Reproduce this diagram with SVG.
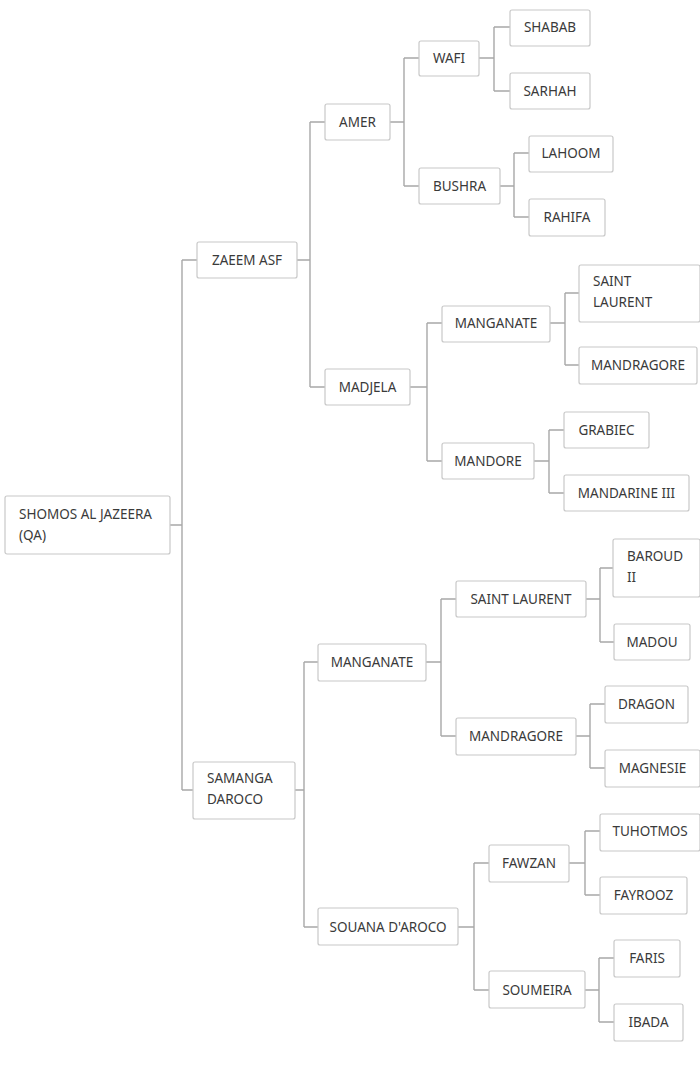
<svg xmlns="http://www.w3.org/2000/svg" width="700" height="1083" viewBox="0 0 700 1083">
<style>
.n rect{fill:#fff;stroke:#c8c8c8;stroke-width:1.2}
.n text{font-family:"Noto Sans","Liberation Sans",sans-serif;font-size:13.5px;fill:#3a3a3a}
.c path{fill:none;stroke:#a8a8a8;stroke-width:1.4}
</style>
<rect width="700" height="1083" fill="#fff"/>
<g class="c">
<path d="M170,525H182M182,260V790M182,260H197M182,790H193"/>
<path d="M297,260H310M310,122V387M310,122H325M310,387H325"/>
<path d="M390,122H404M404,58V186M404,58H419M404,186H419"/>
<path d="M479,58H494M494,27V91M494,27H510M494,91H510"/>
<path d="M500,186H514M514,153V217M514,153H529M514,217H529"/>
<path d="M410,387H427M427,323V461M427,323H442M427,461H442"/>
<path d="M550,323H565M565,293V365M565,293H579M565,365H579"/>
<path d="M534,461H549M549,430V493M549,430H564M549,493H564"/>
<path d="M295,790H304M304,662V927M304,662H318M304,927H318"/>
<path d="M426,662H441M441,599V736M441,599H456M441,736H456"/>
<path d="M586,599H600M600,568V642M600,568H613M600,642H614"/>
<path d="M576,736H590M590,704V768M590,704H605M590,768H605"/>
<path d="M458,927H474M474,863V990M474,863H489M474,990H489"/>
<path d="M569,863H585M585,831V895M585,831H600M585,895H600"/>
<path d="M585,990H599M599,958V1022M599,958H614M599,1022H614"/>
</g>
<g id="root" class="n"><rect x="5" y="496" width="165" height="58" rx="2"/><text x="19" y="519">SHOMOS AL JAZEERA</text><text x="19" y="540">(QA)</text></g>
<g id="zaeem" class="n"><rect x="197" y="242" width="100" height="36" rx="2"/><text x="247" y="265" text-anchor="middle">ZAEEM ASF</text></g>
<g id="samanga" class="n"><rect x="193" y="762" width="102" height="57" rx="2"/><text x="207" y="783">SAMANGA</text><text x="207" y="804">DAROCO</text></g>
<g id="amer" class="n"><rect x="325" y="104" width="65" height="36" rx="2"/><text x="357.5" y="127" text-anchor="middle">AMER</text></g>
<g id="madjela" class="n"><rect x="325" y="369" width="85" height="36" rx="2"/><text x="367.5" y="392" text-anchor="middle">MADJELA</text></g>
<g id="wafi" class="n"><rect x="419" y="41" width="60" height="35" rx="2"/><text x="449" y="63" text-anchor="middle">WAFI</text></g>
<g id="bushra" class="n"><rect x="419" y="168" width="81" height="36" rx="2"/><text x="459.5" y="191" text-anchor="middle">BUSHRA</text></g>
<g id="shabab" class="n"><rect x="510" y="10" width="80" height="36" rx="2"/><text x="550" y="32" text-anchor="middle">SHABAB</text></g>
<g id="sarhah" class="n"><rect x="510" y="73" width="80" height="36" rx="2"/><text x="550" y="96" text-anchor="middle">SARHAH</text></g>
<g id="lahoom" class="n"><rect x="529" y="136" width="84" height="36" rx="2"/><text x="571" y="158" text-anchor="middle">LAHOOM</text></g>
<g id="rahifa" class="n"><rect x="529" y="199" width="76" height="37" rx="2"/><text x="567" y="222" text-anchor="middle">RAHIFA</text></g>
<g id="manganate1" class="n"><rect x="442" y="306" width="108" height="36" rx="2"/><text x="496" y="328" text-anchor="middle">MANGANATE</text></g>
<g id="mandore" class="n"><rect x="442" y="443" width="92" height="36" rx="2"/><text x="488" y="466" text-anchor="middle">MANDORE</text></g>
<g id="saintlaurent1" class="n"><rect x="579" y="265" width="121" height="57" rx="2"/><text x="593" y="286">SAINT</text><text x="593" y="307">LAURENT</text></g>
<g id="mandragore1" class="n"><rect x="579" y="347" width="118" height="37" rx="2"/><text x="638" y="370" text-anchor="middle">MANDRAGORE</text></g>
<g id="grabiec" class="n"><rect x="564" y="412" width="85" height="36" rx="2"/><text x="606.5" y="435" text-anchor="middle">GRABIEC</text></g>
<g id="mandarine" class="n"><rect x="564" y="475" width="125" height="36" rx="2"/><text x="626.5" y="498" text-anchor="middle">MANDARINE III</text></g>
<g id="manganate2" class="n"><rect x="318" y="644" width="108" height="37" rx="2"/><text x="372" y="667" text-anchor="middle">MANGANATE</text></g>
<g id="souana" class="n"><rect x="318" y="908" width="140" height="37" rx="2"/><text x="388" y="932" text-anchor="middle">SOUANA D'AROCO</text></g>
<g id="saintlaurent2" class="n"><rect x="456" y="581" width="130" height="36" rx="2"/><text x="521" y="604" text-anchor="middle">SAINT LAURENT</text></g>
<g id="mandragore2" class="n"><rect x="456" y="718" width="120" height="37" rx="2"/><text x="516" y="741" text-anchor="middle">MANDRAGORE</text></g>
<g id="baroud" class="n"><rect x="613" y="539" width="87" height="58" rx="2"/><text x="627" y="561">BAROUD</text><text x="627" y="582">II</text></g>
<g id="madou" class="n"><rect x="614" y="624" width="76" height="36" rx="2"/><text x="652" y="647" text-anchor="middle">MADOU</text></g>
<g id="dragon" class="n"><rect x="605" y="686" width="83" height="37" rx="2"/><text x="646.5" y="709" text-anchor="middle">DRAGON</text></g>
<g id="magnesie" class="n"><rect x="605" y="750" width="95" height="37" rx="2"/><text x="652.5" y="773" text-anchor="middle">MAGNESIE</text></g>
<g id="fawzan" class="n"><rect x="489" y="845" width="80" height="37" rx="2"/><text x="529" y="868" text-anchor="middle">FAWZAN</text></g>
<g id="soumeira" class="n"><rect x="489" y="971" width="96" height="37" rx="2"/><text x="537" y="995" text-anchor="middle">SOUMEIRA</text></g>
<g id="tuhotmos" class="n"><rect x="600" y="814" width="100" height="37" rx="2"/><text x="650" y="836" text-anchor="middle">TUHOTMOS</text></g>
<g id="fayrooz" class="n"><rect x="600" y="877" width="87" height="37" rx="2"/><text x="643.5" y="900" text-anchor="middle">FAYROOZ</text></g>
<g id="faris" class="n"><rect x="614" y="940" width="66" height="37" rx="2"/><text x="647" y="963" text-anchor="middle">FARIS</text></g>
<g id="ibada" class="n"><rect x="614" y="1004" width="69" height="37" rx="2"/><text x="648.5" y="1027" text-anchor="middle">IBADA</text></g>
</svg>
